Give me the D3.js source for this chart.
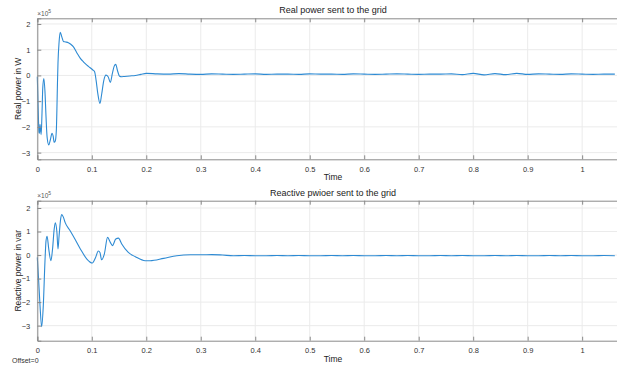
<!DOCTYPE html>
<html>
<head>
<meta charset="utf-8">
<script src="https://cdn.jsdelivr.net/npm/d3@7"></script>
<style>
  body { margin: 0; background: #fff; }
  svg { font-family: "Liberation Sans", Arial, sans-serif; }
</style>
</head>
<body>
<svg id="chart" width="617" height="366"></svg>
<script>
// values are in units of 1e5
var xTicks = [0, 0.1, 0.2, 0.3, 0.4, 0.5, 0.6, 0.7, 0.8, 0.9, 1];
var yTicks = [-3, -2, -1, 0, 1, 2];

// transient part of the real power
var realTime = [0, 0.001, 0.002, 0.003, 0.004, 0.005, 0.006, 0.007, 0.008, 0.009, 0.010, 0.012, 0.014, 0.016,
  0.018, 0.021, 0.024, 0.027, 0.029, 0.031, 0.033, 0.035, 0.036, 0.037, 0.038, 0.040, 0.042, 0.045,
  0.048, 0.052, 0.057, 0.062, 0.066, 0.072, 0.079, 0.085, 0.091, 0.097, 0.102, 0.105, 0.108, 0.111,
  0.115, 0.118, 0.122, 0.126, 0.130, 0.134, 0.138, 0.141, 0.144, 0.147, 0.151, 0.155, 0.160, 0.170,
  0.180, 0.190, 0.200];
var realPower = [-0.05, -0.8, -1.6, -2.2, -2.25, -1.9, -2.1, -2.3, -1.9, -1.2, -0.5, -0.12, -0.6, -1.6,
  -2.4, -2.7, -2.5, -2.25, -2.35, -2.6, -2.55, -2.1, -1.3, -0.3, 0.5, 1.3, 1.68, 1.5,
  1.32, 1.3, 1.27, 1.2, 1.12, 0.9, 0.66, 0.52, 0.40, 0.3, 0.21, 0.15, -0.2, -0.7,
  -1.09, -0.75, -0.2, 0.01, -0.05, -0.27, 0.1, 0.35, 0.43, 0.2, -0.03, -0.05, -0.04, -0.02,
  0.0, 0.04, 0.08];
// steady state of the real power, every 0.02 from 0.22
var realSteady = [0.06, 0.05, 0.07, 0.05, 0.04, 0.06, 0.05, 0.04, 0.05, 0.06, 0.04, 0.05, 0.05, 0.04,
  0.06, 0.05, 0.05, 0.04, 0.06, 0.05, 0.04, 0.05, 0.06, 0.05, 0.04, 0.05, 0.05, 0.06, 0.03,
  0.08, 0.02, 0.07, 0.03, 0.08, 0.04, 0.06, 0.05, 0.04, 0.06, 0.05, 0.04, 0.05, 0.05];

// transient part of the reactive power
var reactTime = [0, 0.002, 0.005, 0.008, 0.011, 0.014, 0.016, 0.018, 0.021, 0.025, 0.028, 0.031, 0.033,
  0.036, 0.038, 0.040, 0.043, 0.045, 0.048, 0.051, 0.060, 0.069, 0.079, 0.091, 0.101, 0.107,
  0.112, 0.115, 0.118, 0.123, 0.129, 0.134, 0.138, 0.144, 0.149, 0.155, 0.167, 0.180, 0.198,
  0.207, 0.232, 0.256, 0.281, 0.301, 0.320, 0.340];
var reactPower = [-0.1, -0.88, -2.15, -3.05, -2.15, -0.31, 0.6, 0.8, 0.26, -0.24, 0.26, 1.1, 1.37,
  0.97, 0.26, 0.82, 1.56, 1.72, 1.6, 1.39, 1.04, 0.68, 0.26, -0.17, -0.34, -0.1,
  0.17, 0.11, -0.2, 0.04, 0.75, 0.54, 0.4, 0.68, 0.72, 0.47, 0.11, -0.07, -0.24,
  -0.24, -0.14, -0.03, 0.01, 0.01, 0.02, 0.0];
// steady state of the reactive power, every 0.02 from 0.36
var reactSteady = [-0.03, -0.02, -0.03, -0.03, -0.02, -0.03, -0.02, -0.03, -0.03, -0.02, -0.03, -0.02,
  -0.03, -0.03, -0.02, -0.03, -0.02, -0.03, -0.03, -0.02, -0.03, -0.02, -0.03, -0.03, -0.02,
  -0.03, -0.02, -0.03, -0.03, -0.02, -0.03, -0.02, -0.03, -0.03, -0.02, -0.03];

function joinSeries(t, v, start, steady) {
  var pts = t.map(function(d, i) { return [d, v[i]]; });
  steady.forEach(function(d, i) { pts.push([start + i * 0.02, d]); });
  return pts;
}

var svg = d3.select("#chart");

var panels = [
  { title: "Real power sent to the grid", ylabel: "Real power in W",
    top: 18.3, bottom: 159.3, ydom: [-3.26, 2.22],
    data: joinSeries(realTime, realPower, 0.22, realSteady) },
  { title: "Reactive pwioer sent to the grid", ylabel: "Reactive power in var",
    top: 200.7, bottom: 340.7, ydom: [-3.64, 2.31],
    data: joinSeries(reactTime, reactPower, 0.36, reactSteady) }
];

var left = 37.3, right = 629;
var axisColor = "#8a8a8a", gridColor = "#ebebeb", textColor = "#333";
var fmt = d3.format("~g");

panels.forEach(function(p) {
  var x = d3.scaleLinear().domain([0, 1.086]).range([left, right]);
  var y = d3.scaleLinear().domain(p.ydom).range([p.bottom, p.top]);
  var g = svg.append("g");

  // grid
  g.selectAll("line.vg").data(xTicks).enter().append("line")
    .attr("x1", x).attr("x2", x).attr("y1", p.top).attr("y2", p.bottom)
    .attr("stroke", gridColor).attr("stroke-width", 1);
  g.selectAll("line.hg").data(yTicks).enter().append("line")
    .attr("x1", left).attr("x2", right).attr("y1", y).attr("y2", y)
    .attr("stroke", gridColor).attr("stroke-width", 1);

  // curve
  g.append("path")
    .datum(p.data)
    .attr("fill", "none")
    .attr("stroke", "#2d8ad3")
    .attr("stroke-width", 1.1)
    .attr("d", d3.line()
      .x(function(d) { return x(d[0]); })
      .y(function(d) { return y(d[1]); })
      .curve(d3.curveMonotoneX));

  // axes box
  var xb = d3.axisBottom(x).tickValues(xTicks).tickSize(-4).tickPadding(7).tickFormat(fmt);
  var xt = d3.axisTop(x).tickValues(xTicks).tickSize(-4).tickFormat("");
  var yl = d3.axisLeft(y).tickValues(yTicks).tickSize(-4).tickPadding(7).tickFormat(fmt);

  [g.append("g").attr("transform", "translate(0," + p.bottom + ")").call(xb),
   g.append("g").attr("transform", "translate(0," + p.top + ")").call(xt),
   g.append("g").attr("transform", "translate(" + left + ",0)").call(yl)]
    .forEach(function(a) {
      a.select(".domain").attr("stroke", axisColor).attr("stroke-width", 1);
      a.selectAll(".tick line").attr("stroke", axisColor);
      a.selectAll(".tick text").attr("fill", textColor).attr("font-size", 7.5);
    });

  // labels
  g.append("text")
    .attr("x", 333).attr("y", p.top - 5)
    .attr("text-anchor", "middle").attr("font-size", 9).attr("fill", "#222")
    .text(p.title);
  g.append("text")
    .attr("x", 333).attr("y", p.bottom + 21)
    .attr("text-anchor", "middle").attr("font-size", 8.5).attr("fill", "#222")
    .text("Time");
  g.append("text")
    .attr("transform", "translate(21," + ((p.top + p.bottom) / 2) + ") rotate(-90)")
    .attr("text-anchor", "middle").attr("font-size", 8.5).attr("fill", "#222")
    .text(p.ylabel);
  var ex = g.append("text")
    .attr("x", left).attr("y", p.top - 2.5)
    .attr("font-size", 6.5).attr("fill", "#555")
    .text("\u00d710");
  ex.append("tspan").attr("dy", -3).attr("font-size", 5).text("5");
});

svg.append("text")
  .attr("x", 12).attr("y", 363)
  .attr("font-size", 7).attr("fill", "#333")
  .text("Offset=0");
</script>
</body>
</html>
